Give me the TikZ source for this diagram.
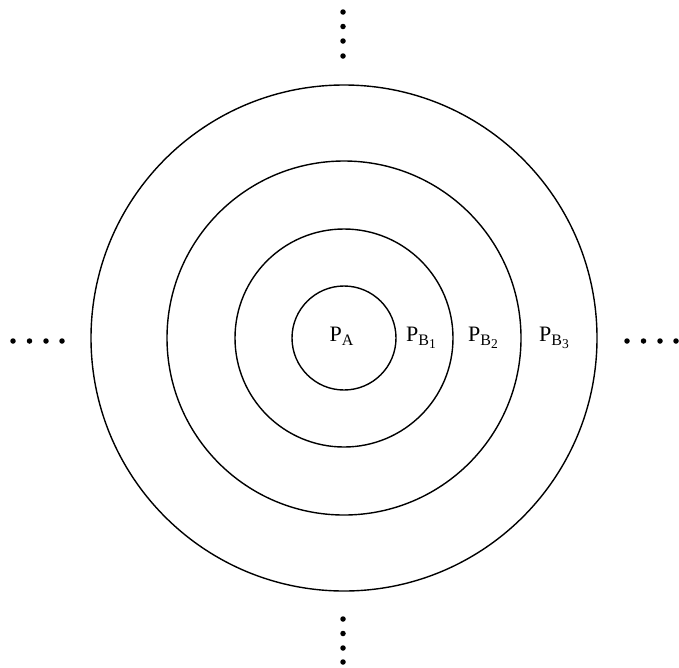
\documentclass[tikz,border=0pt]{standalone}
\usepackage{fontspec}
\setmainfont{Liberation Serif}
\newcommand{\plabel}[2]{P\raisebox{-4pt}{\fontsize{16}{16}\selectfont #1%
    \raisebox{-3pt}{\fontsize{13.5}{13.5}\selectfont #2}}}
\begin{document}
\begin{tikzpicture}[
    x=1pt, y=-1pt,
    ring/.style={circle, draw=black, line width=1.4pt, minimum size=#1,
                 inner sep=0pt},
    region/.style={font=\fontsize{22}{26}\selectfont, inner sep=0pt,
                   anchor=base},
    dotmark/.style={circle, fill=black, inner sep=0pt, minimum size=5.5pt}
]
\useasboundingbox (0,0) rectangle (679,667);

% ===================================================================
% RINGS
% ===================================================================
\coordinate (centre) at (344,338);
\node[ring=506pt] (ring3) at (centre) {};
\node[ring=354pt] (ring2) at (centre) {};
\node[ring=218pt] (ring1) at (centre) {};
\node[ring=104pt] (core) at (centre) {};

% ===================================================================
% LABELS
% ===================================================================
\node[region] (pa)  at (341.5,341) {\plabel{A}{}};
\node[region] (pb1) at (421,341) {\plabel{B}{1}};
\node[region] (pb2) at (483,341) {\plabel{B}{2}};
\node[region] (pb3) at (554,341) {\plabel{B}{3}};

% ===================================================================
% CONTINUATION DOTS
% ===================================================================
\foreach \y [count=\i] in {12,26.5,41,56}
    \node[dotmark] (top\i) at (343,\y) {};
\foreach \y [count=\i] in {619,633.5,648,662}
    \node[dotmark] (bottom\i) at (343,\y) {};
\foreach \x [count=\i] in {13,29.5,46,62}
    \node[dotmark] (left\i) at (\x,341) {};
\foreach \x [count=\i] in {627,643.5,660,676}
    \node[dotmark] (right\i) at (\x,341) {};

\end{tikzpicture}
\end{document}
